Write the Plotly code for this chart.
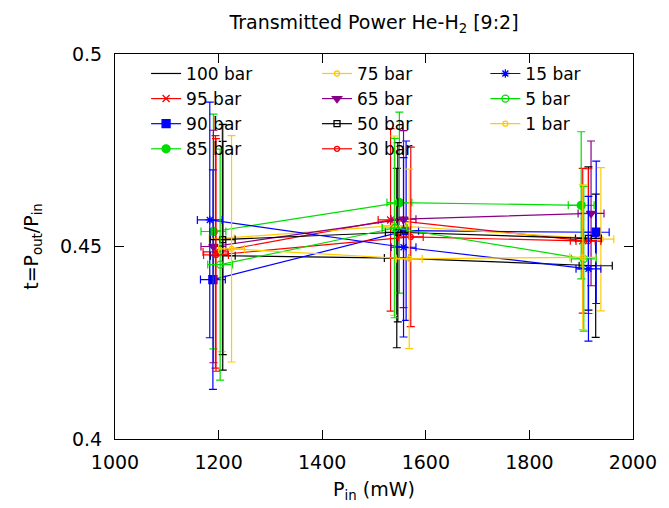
import plotly.graph_objects as go

# ---------------- data ----------------
labels = ["100 bar", "95 bar", "90 bar", "85 bar", "75 bar", "65 bar",
          "50 bar", "30 bar", "15 bar", "5 bar", "1 bar"]

# P_in (mW) for the three power settings of each pressure
pin_100 = [1208, 1544, 1928]
pin_95 = [1194, 1532, 1903]
pin_90 = [1189, 1562, 1929]
pin_85 = [1190, 1549, 1900]
pin_75 = [1206, 1539, 1938]
pin_65 = [1190, 1557, 1919]
pin_50 = [1208, 1546, 1914]
pin_30 = [1195, 1571, 1914]
pin_15 = [1183, 1557, 1914]
pin_5 = [1203, 1540, 1905]
pin_1 = [1225, 1568, 1903]

# transmission t = P_out / P_in
t_100 = [0.4476, 0.4470, 0.4450]
t_95 = [0.4486, 0.4569, 0.4515]
t_90 = [0.4414, 0.4541, 0.4537]
t_85 = [0.4539, 0.4614, 0.4607]
t_75 = [0.4521, 0.4554, 0.4519]
t_65 = [0.4500, 0.4571, 0.4586]
t_50 = [0.4518, 0.4537, 0.4521]
t_30 = [0.4478, 0.4525, 0.4514]
t_15 = [0.4569, 0.4498, 0.4442]
t_5 = [0.4453, 0.4548, 0.4468]
t_1 = [0.4494, 0.4468, 0.4472]

# P_in uncertainties (mW)
dpin_100 = [24, 24, 32]
dpin_95 = [24, 24, 24]
dpin_90 = [24, 24, 25]
dpin_85 = [24, 24, 25]
dpin_75 = [24, 24, 25]
dpin_65 = [24, 24, 25]
dpin_50 = [24, 24, 25]
dpin_30 = [24, 24, 24]
dpin_15 = [24, 24, 24]
dpin_5 = [24, 24, 24]
dpin_1 = [25, 25, 25]

# t uncertainties
dt_100 = [0.0297, 0.0233, 0.0186]
dt_95 = [0.0302, 0.0237, 0.0188]
dt_90 = [0.0285, 0.0233, 0.0185]
dt_85 = [0.0305, 0.0235, 0.0191]
dt_75 = [0.0294, 0.0233, 0.0186]
dt_65 = [0.0302, 0.0230, 0.0188]
dt_50 = [0.0299, 0.0233, 0.0186]
dt_30 = [0.0302, 0.0233, 0.0188]
dt_15 = [0.0306, 0.0233, 0.0188]
dt_5 = [0.0300, 0.0233, 0.0188]
dt_1 = [0.0294, 0.0233, 0.0188]

x_ticks = [1000, 1200, 1400, 1600, 1800, 2000]
y_ticks = [0.4, 0.45, 0.5]
y_tick_text = ["0.4", "0.45", "0.5"]

series_pin = [pin_100, pin_95, pin_90, pin_85, pin_75, pin_65, pin_50, pin_30, pin_15, pin_5, pin_1]
series_t = [t_100, t_95, t_90, t_85, t_75, t_65, t_50, t_30, t_15, t_5, t_1]
series_dpin = [dpin_100, dpin_95, dpin_90, dpin_85, dpin_75, dpin_65, dpin_50, dpin_30, dpin_15, dpin_5, dpin_1]
series_dt = [dt_100, dt_95, dt_90, dt_85, dt_75, dt_65, dt_50, dt_30, dt_15, dt_5, dt_1]

# ---------------- style ----------------
colors = ["#000000", "#ff0000", "#0000ff", "#00dd00", "#ffcc00", "#880088",
          "#000000", "#ff0000", "#0000ff", "#00dd00", "#ffcc00"]
symbols = [None, "x-thin-open", "square", "circle", "circle-open", "triangle-down",
           "square-open", "circle-open", "asterisk-open", "circle-open", "circle-open"]
msizes = [0, 7, 8, 8, 5, 8, 6, 5, 7, 7, 5]
# legend column of each series (3 columns, like the original key)
legend_ids = ["legend", "legend", "legend", "legend",
              "legend2", "legend2", "legend2", "legend2",
              "legend3", "legend3", "legend3"]

FONT = "DejaVu Sans"
fig = go.Figure()
for i, name in enumerate(labels):
    mode = "lines" if symbols[i] is None else "lines+markers"
    marker = dict(color=colors[i], size=msizes[i],
                  line=dict(color=colors[i], width=1.3))
    if symbols[i] is not None:
        marker["symbol"] = symbols[i]
    fig.add_trace(go.Scatter(
        x=series_pin[i], y=series_t[i], name=name, mode=mode,
        line=dict(color=colors[i], width=1.2),
        marker=marker,
        error_x=dict(type="data", array=series_dpin[i], visible=True,
                     color=colors[i], thickness=1.2, width=4),
        error_y=dict(type="data", array=series_dt[i], visible=True,
                     color=colors[i], thickness=1.2, width=4),
        legend=legend_ids[i],
    ))

legend_common = dict(orientation="v", y=0.995, xanchor="left", yanchor="top",
                     bgcolor="rgba(0,0,0,0)", borderwidth=0,
                     font=dict(family=FONT, size=17, color="black"),
                     traceorder="normal")

fig.update_layout(
    width=669, height=508,
    margin=dict(l=115, r=29, t=54, b=69),
    paper_bgcolor="white", plot_bgcolor="white",
    font=dict(family=FONT, size=19, color="black"),
    title=dict(text="Transmitted Power He-H<sub>2</sub> [9:2]",
               x=0.5, xref="paper", xanchor="center",
               y=1 - 22 / 508, yanchor="middle",
               font=dict(family=FONT, size=19, color="black")),
    showlegend=True,
    legend=dict(x=0.06, **legend_common),
    legend2=dict(x=0.39, **legend_common),
    legend3=dict(x=0.715, **legend_common),
    xaxis=dict(range=[1000, 2000], tickvals=x_ticks, ticks="inside", ticklen=9,
               tickcolor="black", showline=True, linecolor="black", linewidth=1,
               mirror="ticks", showgrid=False, zeroline=False,
               ticklabelstandoff=6, tickfont=dict(size=19),
               title=dict(text="P<sub>in</sub> (mW)", standoff=10,
                          font=dict(family=FONT, size=19))),
    yaxis=dict(range=[0.4, 0.5], tickvals=y_ticks, ticktext=y_tick_text,
               ticks="inside", ticklen=9, tickcolor="black",
               showline=True, linecolor="black", linewidth=1,
               mirror="ticks", showgrid=False, zeroline=False,
               ticklabelstandoff=8, tickfont=dict(size=19),
               title=dict(text="t=P<sub>out</sub>/P<sub>in</sub>", standoff=16,
                          font=dict(family=FONT, size=19))),
)

# remove the browser's default 8 px page margin so the figure sits at (0, 0)
fig.write_html("out.html",
               config={"displayModeBar": False},
               post_script="document.body.style.margin='0';document.body.style.overflow='hidden';")
